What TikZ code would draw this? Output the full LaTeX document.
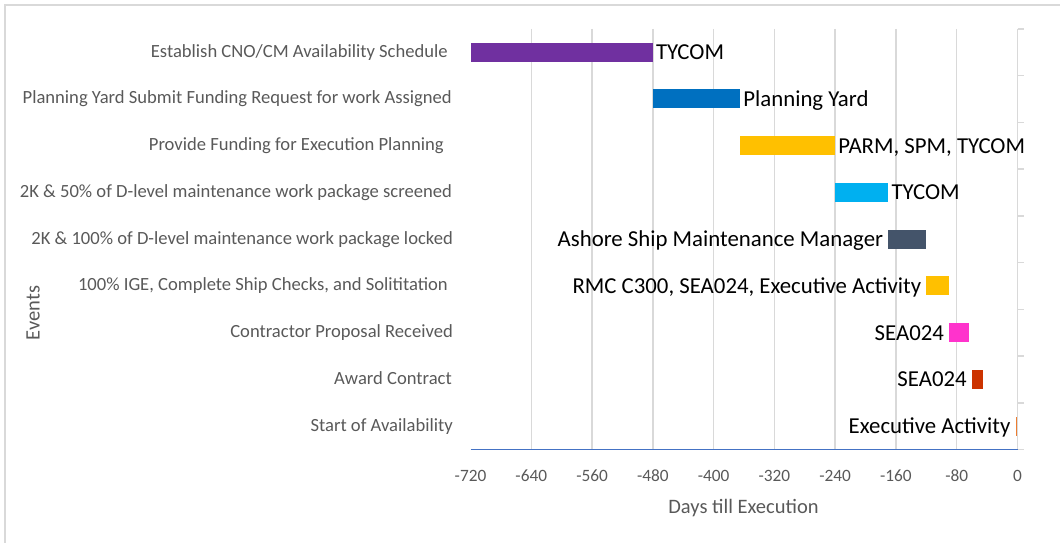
\documentclass[tikz,border=0pt]{standalone}
\usepackage{fontspec}
\setmainfont{Carlito}
\definecolor{gridc}{HTML}{D9D9D9}
\definecolor{txtc}{HTML}{595959}
\definecolor{axisblue}{HTML}{4472C4}
\definecolor{cpurple}{HTML}{7030A0}
\definecolor{cblue}{HTML}{0070C0}
\definecolor{cgold}{HTML}{FFC000}
\definecolor{ccyan}{HTML}{00B0F0}
\definecolor{cslate}{HTML}{44546A}
\definecolor{cmagenta}{HTML}{FF33CC}
\definecolor{cred}{HTML}{CC3300}
\definecolor{corange}{HTML}{ED7D31}
\tikzset{
  bar/.style={anchor=west, minimum height=19pt, inner sep=0pt, outer sep=0pt, draw=none},
  catlabel/.style={anchor=east, inner sep=0pt, text=txtc, font=\fontsize{18.6}{21}\selectfont, text height=12pt, text depth=0pt},
  rlabel/.style={anchor=west, inner xsep=3pt, inner ysep=0pt, text=black, font=\fontsize{22.8}{26}\selectfont, text height=14.6pt, text depth=0pt},
  llabel/.style={anchor=east, inner xsep=5pt, inner ysep=0pt, text=black, font=\fontsize{22.8}{26}\selectfont, text height=14.6pt, text depth=0pt},
  ticklabel/.style={inner sep=0pt, text=txtc, font=\fontsize{17.3}{20}\selectfont, text height=11.1pt, text depth=0pt},
  axtitle/.style={inner sep=0pt, text=txtc, font=\fontsize{20.5}{24}\selectfont, text height=13.1pt, text depth=0pt},
  grid line/.style={draw=gridc, line width=1.5pt},
}
\begin{document}
\begin{tikzpicture}[x=1pt, y=-1pt]
\useasboundingbox (0,0) rectangle (1060,543);
% frame (only top and left visible)
\draw[grid line] (5,543) -- (5,5) -- (1060,5);
% vertical gridlines
\foreach \d in {-640,-560,-480,-400,-320,-240,-160,-80}
  \draw[grid line] ({1017.5+0.7597*\d},28.8) -- ({1017.5+0.7597*\d},449.6);
% category axis (right) with ticks
\draw[grid line] (1017.5,28.8) -- (1017.5,449.6);
\foreach \k in {0,...,9}
  \draw[grid line] (1017.5,{28.8+46.75*\k}) -- (1023.5,{28.8+46.75*\k});
% bars
\node[bar, fill=cpurple,  minimum width=182.3pt] (b1) at (470.5,52.2) {};
\node[bar, fill=cblue,    minimum width=87.4pt]  (b2) at (652.8,98.95) {};
\node[bar, fill=cgold,    minimum width=95.0pt]  (b3) at (740.2,145.7) {};
\node[bar, fill=ccyan,    minimum width=53.2pt]  (b4) at (835.2,192.45) {};
\node[bar, fill=cslate,   minimum width=38.0pt]  (b5) at (888.3,239.2) {};
\node[bar, fill=cgold,    minimum width=22.8pt]  (b6) at (926.3,285.95) {};
\node[bar, fill=cmagenta, minimum width=19.8pt]  (b7) at (949.1,332.7) {};
\node[bar, fill=cred,     minimum width=11.4pt]  (b8) at (971.9,379.45) {};
\node[bar, fill=corange,  minimum width=1.6pt]   (b9) at (1015.6,426.2) {};
% baseline value axis
\draw[draw=axisblue, line width=1.5pt] (470.5,449.6) -- (1017.5,449.6);
% data labels
\node[rlabel] (l1) at (b1.east) {TYCOM};
\node[rlabel] (l2) at (b2.east) {Planning Yard};
\node[rlabel] (l3) at (b3.east) {PARM, SPM, TYCOM};
\node[rlabel] (l4) at (b4.east) {TYCOM};
\node[llabel] (l5) at (b5.west) {Ashore Ship Maintenance Manager};
\node[llabel] (l6) at (b6.west) {RMC C300, SEA024, Executive Activity};
\node[llabel] (l7) at (b7.west) {SEA024};
\node[llabel] (l8) at (b8.west) {SEA024};
\node[llabel] (l9) at (b9.west) {Executive Activity};
% category labels
\node[catlabel] (c1) at (448,51.2) {Establish CNO/CM Availability Schedule};
\node[catlabel] (c2) at (452,97.9) {Planning Yard Submit Funding Request for work Assigned};
\node[catlabel] (c3) at (444,144.7) {Provide Funding for Execution Planning};
\node[catlabel] (c4) at (452,191.4) {2K \& 50\% of D-level maintenance work package screened};
\node[catlabel] (c5) at (453,238.2) {2K \& 100\% of D-level maintenance work package locked};
\node[catlabel] (c6) at (448,284.9) {100\% IGE, Complete Ship Checks, and Solititation};
\node[catlabel] (c7) at (453,331.7) {Contractor Proposal Received};
\node[catlabel] (c8) at (452,378.4) {Award Contract};
\node[catlabel] (c9) at (453,425.2) {Start of Availability};
% tick labels
\foreach \d/\t in {-720/-720,-640/-640,-560/-560,-480/-480,-400/-400,-320/-320,-240/-240,-160/-160,-80/-80,0/0}
  \node[ticklabel] (t\t) at ({1017.5+0.7597*\d},475.5) {\t};
% axis titles
\node[axtitle] (xt) at (743.5,507) {Days till Execution};
\node[axtitle, rotate=90] (yt) at (33,313) {Events};
\end{tikzpicture}
\end{document}
